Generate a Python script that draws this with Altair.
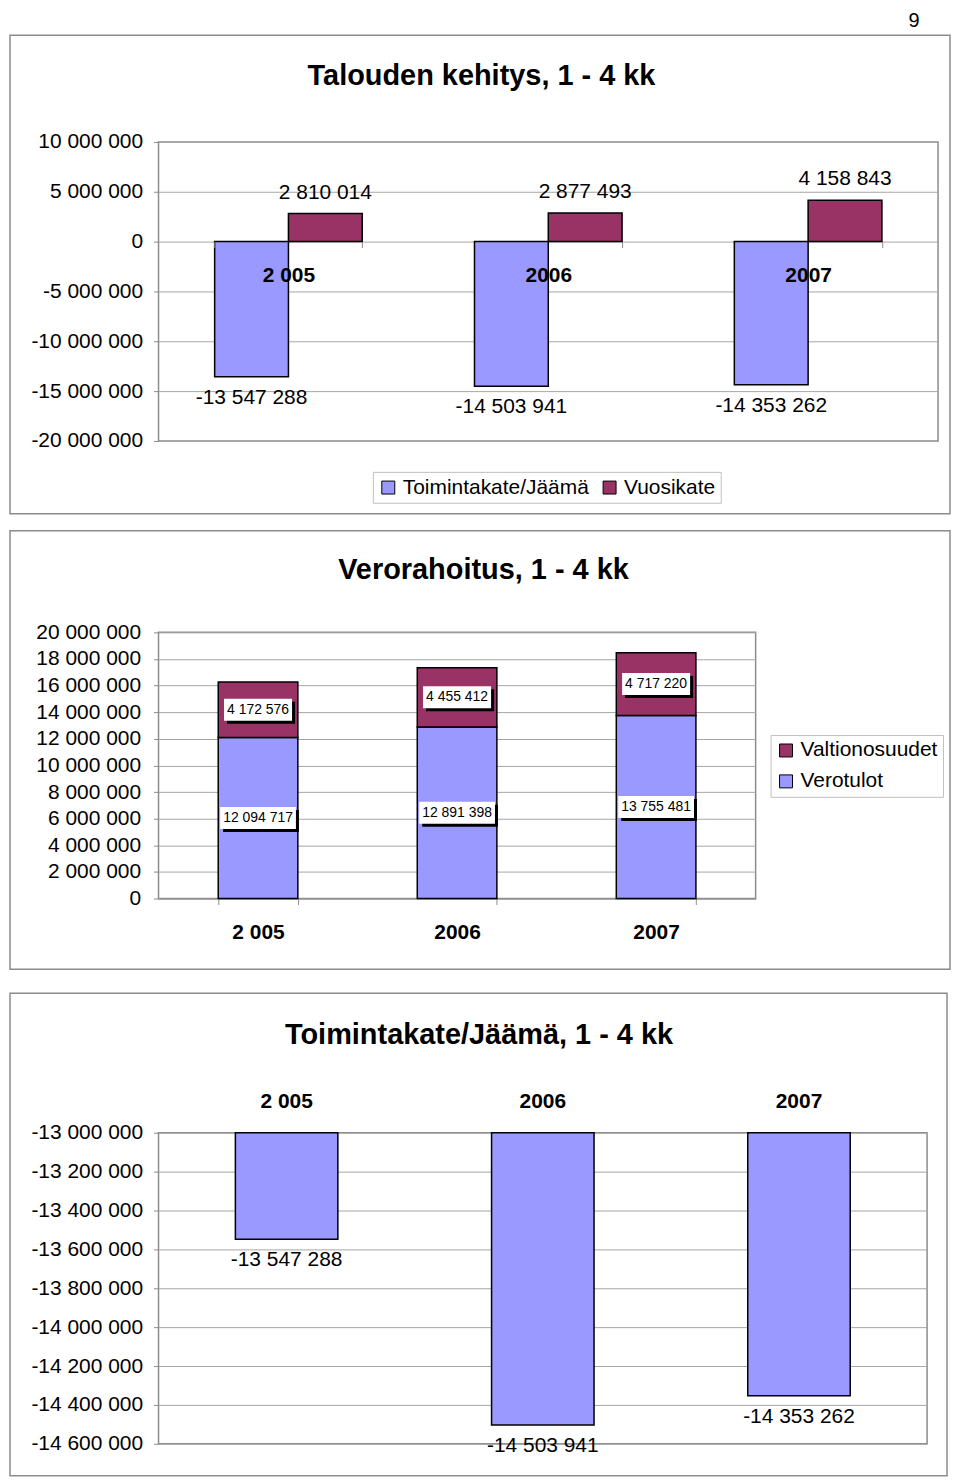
import altair as alt
import pandas as pd

# ---------------- data ----------------
years = ["2 005", "2006", "2007"]
toimintakate = [-13547288, -14503941, -14353262]
vuosikate = [2810014, 2877493, 4158843]
verotulot = [12094717, 12891398, 13755481]
valtionosuudet = [4172576, 4455412, 4717220]

s_toim = "Toimintakate/Jäämä"
s_vuosi = "Vuosikate"
s_valt = "Valtionosuudet"
s_vero = "Verotulot"

titles = ["Talouden kehitys, 1 - 4 kk", "Verorahoitus, 1 - 4 kk",
          "Toimintakate/Jäämä, 1 - 4 kk"]
page_number = "9"

ticks1 = [10000000, 5000000, 0, -5000000, -10000000, -15000000, -20000000]
ticks2 = [0, 2000000, 4000000, 6000000, 8000000, 10000000, 12000000,
          14000000, 16000000, 18000000, 20000000]
ticks3 = [-13000000, -13200000, -13400000, -13600000, -13800000,
          -14000000, -14200000, -14400000, -14600000]

BLUE = "#9999FF"
RED = "#993366"
FONT = "Liberation Sans"
FRAME = "#8c8c8c"
GRID = "#a6a6a6"
NUMFMT = ",.0f"


def fmt(v):
    return f"{v:,}".replace(",", " ")


def one(text):
    return pd.DataFrame({"t": [text]})


def frame(x1, x2, y1, y2):
    return alt.Chart(one("")).mark_rect(
        fill="white", fillOpacity=0, stroke=FRAME, strokeWidth=1.5
    ).encode(x=alt.value(x1), x2=alt.value(x2), y=alt.value(y1), y2=alt.value(y2))


def title_mark(text, x, y):
    return alt.Chart(one(text)).mark_text(
        fontSize=29, fontWeight="bold", align="center", baseline="middle"
    ).encode(text="t:N", x=alt.value(x), y=alt.value(y))


def yaxis(values, pad):
    return alt.Axis(values=values, tickCount=len(values), labelOverlap=False,
                    title=None, format=NUMFMT, labelFontSize=21, tickSize=5,
                    labelPadding=pad, domain=False)


legend_common = dict(
    title=None, orient="none", labelFontSize=21, labelLimit=400,
    symbolType="square", symbolSize=169, symbolStrokeColor="black",
    symbolStrokeWidth=1, strokeColor="#c0c0c0", fillColor="white",
    padding=5, labelOffset=4,
)

# ---------------- chart 1 ----------------
W1, H1 = 782, 300
d1 = pd.DataFrame({
    "cat": years * 2,
    "series": [s_toim] * 3 + [s_vuosi] * 3,
    "value": toimintakate + vuosikate,
})
d1["label"] = d1["value"].map(fmt)
ymin1, ymax1 = min(ticks1), max(ticks1)
zero_offset1 = -H1 * (0 - ymin1) / (ymax1 - ymin1)

x1 = alt.X("cat:N", sort=years,
           scale=alt.Scale(domain=years, paddingInner=0.432, paddingOuter=0.216),
           axis=alt.Axis(title=None, orient="bottom", offset=zero_offset1,
                         labelAngle=0, labelFontSize=21, labelFontWeight="bold",
                         labelPadding=17, tickSize=6, tickBand="extent",
                         tickColor=FRAME, domain=False, grid=False, zindex=1))
xo1 = alt.XOffset("series:N", scale=alt.Scale(domain=[s_toim, s_vuosi],
                                                paddingInner=0, paddingOuter=0))
y1 = alt.Y("value:Q", scale=alt.Scale(domain=[ymin1, ymax1], nice=False, zero=False),
           axis=yaxis(ticks1, 11))

base1 = alt.Chart(d1)
bars1 = base1.mark_bar(stroke="black", strokeWidth=1.5).encode(
    x=x1, xOffset=xo1, y=y1, y2=alt.datum(0),
    color=alt.Color("series:N",
                    scale=alt.Scale(domain=[s_toim, s_vuosi], range=[BLUE, RED]),
                    legend=alt.Legend(legendX=215, legendY=331, direction="horizontal",
                                      columns=2, columnPadding=10, **legend_common)),
)
pos1 = base1.transform_filter("datum.value >= 0").mark_text(
    fontSize=21, baseline="middle", dy=-21).encode(
    x=alt.X("cat:N", sort=years), xOffset="series:N", y="value:Q", text="label:N")
neg1 = base1.transform_filter("datum.value < 0").mark_text(
    fontSize=21, baseline="middle", dy=21).encode(
    x=alt.X("cat:N", sort=years), xOffset="series:N", y="value:Q", text="label:N")

pagenum = alt.Chart(one(page_number)).mark_text(
    fontSize=20, align="center", baseline="top").encode(
    text="t:N", x=alt.value(758), y=alt.value(-131))

chart1 = alt.layer(
    frame(-149, 794, -107, 373), bars1, pos1, neg1,
    title_mark(titles[0], 324, -66), pagenum
).properties(width=W1, height=H1)

# ---------------- chart 2 ----------------
W2, H2 = 599, 267
rows = []
for c, vero, valt in zip(years, verotulot, valtionosuudet):
    rows.append({"cat": c, "series": s_vero, "lo": 0, "hi": vero, "value": vero})
    rows.append({"cat": c, "series": s_valt, "lo": vero, "hi": vero + valt, "value": valt})
d2 = pd.DataFrame(rows)
d2["mid"] = (d2["lo"] + d2["hi"]) / 2
d2["label"] = d2["value"].map(fmt)


def box_path(label, dx=0, dy=0):
    w = sum(3.89 if ch == " " else 7.78 for ch in label) + 6
    h = 22
    l, r, t, b = -w / 2 + dx, w / 2 + dx, -h / 2 + dy, h / 2 + dy
    return f"M{l},{t}L{r},{t}L{r},{b}L{l},{b}Z"


d2["box"] = d2["label"].map(box_path)
d2["shadow"] = d2["label"].map(lambda s: box_path(s, 3, 3))

x2 = alt.X("cat:N", sort=years,
           scale=alt.Scale(domain=years, paddingInner=0.6, paddingOuter=0.3),
           axis=alt.Axis(title=None, labelAngle=0, labelFontSize=21,
                         labelFontWeight="bold", labelPadding=17, tickSize=6,
                         tickBand="extent", tickColor=FRAME, domainColor=FRAME,
                         grid=False))
y2 = alt.Y("hi:Q", scale=alt.Scale(domain=[min(ticks2), max(ticks2)], nice=False),
           axis=yaxis(ticks2, 13))

base2 = alt.Chart(d2)
bars2 = base2.mark_bar(stroke="black", strokeWidth=1.5).encode(
    x=x2, y=y2, y2="lo:Q",
    color=alt.Color("series:N",
                    scale=alt.Scale(domain=[s_valt, s_vero], range=[RED, BLUE]),
                    legend=alt.Legend(legendX=614, legendY=103, direction="vertical",
                                      columns=1, rowPadding=9, **legend_common)),
)
shadow2 = base2.mark_point(filled=True, size=4, color="black", opacity=1,
                           strokeWidth=0).encode(
    x=alt.X("cat:N", sort=years), y="mid:Q",
    shape=alt.Shape("shadow:N", scale=None))
boxes2 = base2.mark_point(filled=True, size=4, color="white", opacity=1,
                          strokeWidth=0).encode(
    x=alt.X("cat:N", sort=years), y="mid:Q",
    shape=alt.Shape("box:N", scale=None))
labels2 = base2.mark_text(fontSize=14, baseline="middle").encode(
    x=alt.X("cat:N", sort=years), y="mid:Q", text="label:N")

chart2 = alt.layer(
    frame(-149, 794, -102, 338), bars2, shadow2, boxes2, labels2,
    title_mark(titles[1], 326, -63)
).properties(width=W2, height=H2)

# ---------------- chart 3 ----------------
W3, H3 = 771, 312
d3 = pd.DataFrame({"cat": years, "value": toimintakate})
d3["label"] = d3["value"].map(fmt)

x3 = alt.X("cat:N", sort=years,
           scale=alt.Scale(domain=years, paddingInner=0.6, paddingOuter=0.3),
           axis=alt.Axis(title=None, orient="top", labelAngle=0, labelFontSize=21,
                         labelFontWeight="bold", labelPadding=21, ticks=False,
                         domain=False, grid=False))
y3 = alt.Y("value:Q", scale=alt.Scale(domain=[min(ticks3), max(ticks3)], nice=False,
                                      zero=False),
           axis=yaxis(ticks3, 11))
base3 = alt.Chart(d3)
bars3 = base3.mark_bar(stroke="black", strokeWidth=1.5, color=BLUE).encode(
    x=x3, y=y3, y2=alt.datum(max(ticks3)))
labels3 = base3.mark_text(fontSize=21, baseline="middle", dy=21).encode(
    x=alt.X("cat:N", sort=years), y="value:Q", text="label:N")

chart3 = alt.layer(
    frame(-149, 791, -140, 344), bars3, labels3,
    title_mark(titles[2], 321.5, -98)
).properties(width=W3, height=H3)


def indep(c):
    return c.resolve_scale(x="independent", y="independent", color="independent",
                           xOffset="independent", shape="independent") \
            .resolve_axis(x="independent", y="independent") \
            .resolve_legend(color="independent")


top = indep(alt.vconcat(chart1, chart2, spacing=13))
chart = indep(alt.vconcat(top, chart3, spacing=20)).properties(
    padding={"left": 0, "top": 0, "right": 0, "bottom": 0})

chart = chart.configure(
    font=FONT,
    locale=alt.Locale(number=alt.NumberLocale(decimal=",", thousands=" ",
                                              grouping=[3], currency=["", ""],
                                              minus="-")),
).configure_view(stroke=FRAME, strokeWidth=1.5).configure_axis(
    gridColor=GRID, tickColor=FRAME, labelColor="black", labelFont=FONT,
).configure_legend(labelFont=FONT, labelColor="black")

chart.save("out.html", embed_options={"renderer": "svg", "actions": False})
